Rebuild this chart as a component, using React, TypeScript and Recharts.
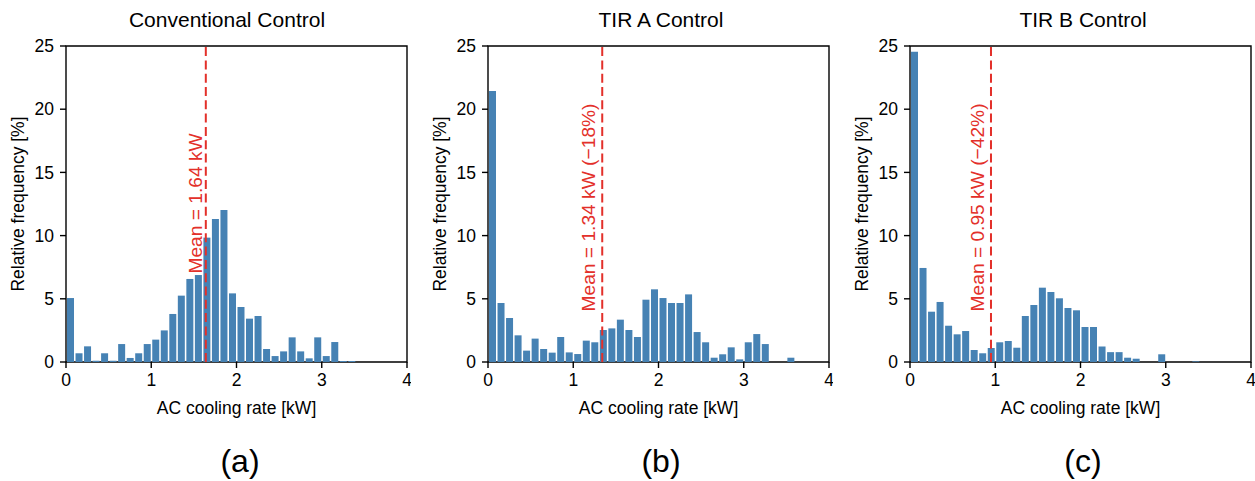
import React from 'react';
import { BarChart, Bar, XAxis, YAxis, ReferenceLine, ReferenceArea, ReferenceDot, Label } from 'recharts';

const binCenters = [0.05, 0.15, 0.25, 0.35, 0.45, 0.55, 0.65, 0.75, 0.85, 0.95, 1.05, 1.15, 1.25, 1.35, 1.45, 1.55, 1.65, 1.75, 1.85, 1.95, 2.05, 2.15, 2.25, 2.35, 2.45, 2.55, 2.65, 2.75, 2.85, 2.95, 3.05, 3.15, 3.25, 3.35, 3.45, 3.55];

const freqConventional = [5.06, 0.69, 1.24, 0.1, 0.69, 0.1, 1.42, 0.32, 0.69, 1.42, 1.77, 2.5, 3.8, 5.25, 6.57, 6.88, 9.84, 11.31, 12.03, 5.43, 4.35, 3.43, 3.64, 1.03, 0.47, 0.84, 1.95, 0.84, 0.29, 1.95, 0.47, 1.58, 0.08, 0.08, 0, 0];
const freqTirA = [21.44, 4.67, 3.48, 2.11, 0.9, 1.85, 1.03, 0.74, 1.98, 0.76, 0.63, 1.69, 1.56, 2.53, 2.66, 3.35, 2.53, 1.98, 4.93, 5.75, 5.06, 4.67, 4.67, 5.35, 2.37, 1.56, 0.34, 0.61, 1.16, 0.21, 1.56, 2.21, 1.42, 0, 0, 0.34];
const freqTirB = [24.55, 7.44, 3.98, 4.75, 2.87, 2.19, 2.45, 0.95, 0.69, 1.11, 1.56, 1.66, 1.13, 3.64, 4.51, 5.88, 5.54, 5.04, 4.27, 4.09, 2.77, 2.77, 1.23, 0.78, 0.78, 0.34, 0.26, 0, 0, 0.61, 0, 0, 0, 0.05, 0, 0];

const titles = ['Conventional Control', 'TIR A Control', 'TIR B Control'];
const panelLetters = ['(a)', '(b)', '(c)'];
const means = [1.64, 1.34, 0.95];
const meanLabels = ['Mean = 1.64 kW', 'Mean = 1.34 kW (\u221218%)', 'Mean = 0.95 kW (\u221242%)'];
const meanLabelAnchorY = [7, 4, 4];
const xTicks = [0, 1, 2, 3, 4];
const yTicks = [0, 5, 10, 15, 20, 25];
const xLabel = 'AC cooling rate [kW]';
const yLabel = 'Relative frequency [%]';

const FONT = '"Liberation Sans", Arial, Helvetica, sans-serif';
const BLUE = '#4682b4';
const RED = '#e3302a';

const seriesList = [freqConventional, freqTirA, freqTirB];

// layout
const PANEL_LEFTS = [0, 422, 844];
const TITLE_X = [227, 661, 1083];
const LETTER_X = [240, 661, 1083];
const LABEL_GAP = [3.5, 7.3, 7.3];

function Panel({ idx }: { idx: number }) {
  const data = binCenters.map((x, i) => ({ x, v: seriesList[idx][i] }));
  const gap = LABEL_GAP[idx];
  const meanContent = (props: any) => {
    const vb = props.viewBox || {};
    const x = vb.x - gap;
    const y = vb.y;
    return (
      <text
        x={x}
        y={y}
        transform={`rotate(-90 ${x} ${y})`}
        fill={RED}
        fontSize={19.2}
        fontFamily={FONT}
        textAnchor="start"
      >
        {meanLabels[idx]}
      </text>
    );
  };
  return (
    <div style={{ position: 'absolute', left: PANEL_LEFTS[idx], top: 0 }}>
      <BarChart
        width={411}
        height={481}
        data={data}
        margin={{ top: 46, right: 4, bottom: 89, left: 6 }}
      >
        <XAxis
          dataKey="x"
          type="number"
          domain={[0, 4]}
          ticks={xTicks}
          height={30}
          axisLine={false}
          tickLine={{ stroke: '#000', strokeWidth: 1.4 }}
          tickSize={6}
          tickMargin={6}
          tick={{ fill: '#000', fontSize: 17.5, fontFamily: FONT }}
          interval={0}
        >
          <Label
            value={xLabel}
            position="bottom"
            offset={9.5}
            style={{ fill: '#000', fontSize: 17.5, fontFamily: FONT }}
          />
        </XAxis>
        <YAxis
          type="number"
          domain={[0, 25]}
          ticks={yTicks}
          width={60}
          axisLine={false}
          tickLine={{ stroke: '#000', strokeWidth: 1.4 }}
          tickSize={6}
          tickMargin={6}
          tick={{ fill: '#000', fontSize: 17.5, fontFamily: FONT }}
          interval={0}
        >
          <Label
            value={yLabel}
            angle={-90}
            position="insideLeft"
            offset={12}
            style={{ fill: '#000', fontSize: 17.5, fontFamily: FONT, textAnchor: 'middle' }}
          />
        </YAxis>
        <Bar dataKey="v" fill={BLUE} barSize={7} isAnimationActive={false} />
        <ReferenceLine
          x={means[idx]}
          stroke={RED}
          strokeWidth={2}
          strokeDasharray="9 4.3"
        />
        <ReferenceDot
          x={means[idx]}
          y={meanLabelAnchorY[idx]}
          r={0}
          fill="none"
          stroke="none"
          label={meanContent}
        />
        <ReferenceArea
          x1={0}
          x2={4}
          y1={0}
          y2={25}
          fill="none"
          stroke="#000"
          strokeWidth={1.4}
          fillOpacity={0}
        />
      </BarChart>
    </div>
  );
}

export default function App() {
  return (
    <div
      style={{
        position: 'absolute',
        left: 0,
        top: 0,
        width: 1255,
        height: 481,
        background: '#fff',
        overflow: 'hidden',
      }}
    >
      {[0, 1, 2].map((i) => (
        <Panel key={i} idx={i} />
      ))}
      <svg
        width={1255}
        height={481}
        style={{ position: 'absolute', left: 0, top: 0, pointerEvents: 'none' }}
      >
        {titles.map((t, i) => (
          <text key={t} x={TITLE_X[i]} y={27} textAnchor="middle" fontSize={21} fontFamily={FONT} fill="#000">
            {t}
          </text>
        ))}
        {panelLetters.map((t, i) => (
          <text key={t} x={LETTER_X[i]} y={472} textAnchor="middle" fontSize={32} fontFamily={FONT} fill="#000">
            {t}
          </text>
        ))}
      </svg>
    </div>
  );
}
